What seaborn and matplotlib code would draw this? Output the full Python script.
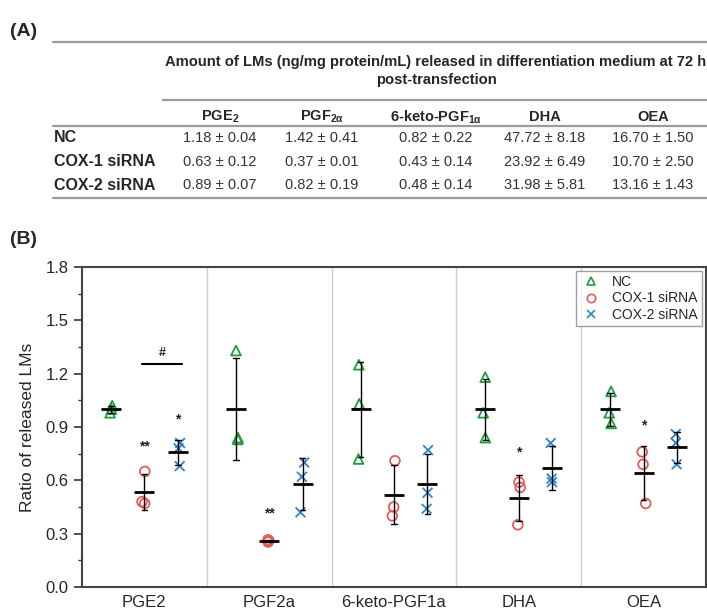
import matplotlib
matplotlib.use('Agg')
import matplotlib.pyplot as plt
from matplotlib.lines import Line2D
from matplotlib.ticker import MultipleLocator
import numpy as np
import pandas as pd
import seaborn as sns

# categories
lms = ['PGE2', 'PGF2a', '6-keto-PGF1a', 'DHA', 'OEA']
lm_headers = [r'PGE$_{\mathrm{2}}$', r'PGF$_{\mathrm{2α}}$', r'6-keto-PGF$_{\mathrm{1α}}$', 'DHA', 'OEA']
groups = ['NC', 'COX-1 siRNA', 'COX-2 siRNA']

# (A) amounts, ng/mg protein/mL, mean and sd
nc_mean = [1.18, 1.42, 0.82, 47.72, 16.70]
nc_sd = [0.04, 0.41, 0.22, 8.18, 1.50]
cox1_mean = [0.63, 0.37, 0.43, 23.92, 10.70]
cox1_sd = [0.12, 0.01, 0.14, 6.49, 2.50]
cox2_mean = [0.89, 0.82, 0.48, 31.98, 13.16]
cox2_sd = [0.07, 0.19, 0.14, 5.81, 1.43]

# (B) ratio of released LMs, three replicates per LM
nc_vals = [[1.00, 1.02, 0.98], [1.33, 0.83, 0.84], [1.25, 1.03, 0.72],
           [1.18, 0.98, 0.84], [1.10, 0.98, 0.92]]
cox1_vals = [[0.65, 0.48, 0.47], [0.265, 0.262, 0.253], [0.71, 0.45, 0.40],
             [0.59, 0.56, 0.35], [0.76, 0.69, 0.47]]
cox2_vals = [[0.81, 0.78, 0.68], [0.70, 0.62, 0.42], [0.77, 0.53, 0.44],
             [0.81, 0.61, 0.59], [0.86, 0.81, 0.69]]

# significance marks: (lm, group, y, text)
stars = [('PGE2', 'COX-1 siRNA', 0.79, '**'), ('PGE2', 'COX-2 siRNA', 0.945, '*'),
         ('PGF2a', 'COX-1 siRNA', 0.415, '**'), ('DHA', 'COX-1 siRNA', 0.755, '*'),
         ('OEA', 'COX-1 siRNA', 0.91, '*')]
hash_y = 1.252

colors = {'NC': '#1f9c3a', 'COX-1 siRNA': '#e25c5c', 'COX-2 siRNA': '#2f85c8'}
markers = {'NC': '^', 'COX-1 siRNA': 'o', 'COX-2 siRNA': 'x'}

rows = []
for g, vals in zip(groups, [nc_vals, cox1_vals, cox2_vals]):
    for lm, reps in zip(lms, vals):
        for v in reps:
            rows.append({'lm': lm, 'group': g, 'ratio': v})
df = pd.DataFrame(rows)

sns.set_style('ticks')
plt.rcParams['font.family'] = ['Liberation Sans', 'DejaVu Sans']
plt.rcParams['mathtext.fontset'] = 'custom'
plt.rcParams['mathtext.rm'] = 'Liberation Sans:bold'
plt.rcParams['mathtext.it'] = 'Liberation Sans:bold'
plt.rcParams['mathtext.bf'] = 'Liberation Sans:bold'

W, H = 707, 613
fig = plt.figure(figsize=(W / 100, H / 100), dpi=100)


def fx(x):
    return x / W


def fy(y):
    return 1 - y / H


# ---- panel (A): table ----
fig.text(fx(10), fy(31), '(A)', fontsize=14, fontweight='bold', va='center')
fig.text(fx(10), fy(240), '(B)', fontsize=14, fontweight='bold', va='center')

line_c = '#9a9a9a'
for y, x0 in [(42, 53), (100, 163), (126, 53), (198, 53)]:
    fig.add_artist(Line2D([fx(x0), 1], [fy(y), fy(y)], color=line_c, lw=1.6))

fig.text(fx(436), fy(62), 'Amount of LMs (ng/mg protein/mL) released in differentiation medium at 72 h',
         fontsize=10.6, fontweight='bold', ha='center', va='center')
fig.text(fx(436), fy(80), 'post-transfection', fontsize=10.6, fontweight='bold', ha='center', va='center')

col_x = [220, 322, 436, 545, 653]
for cx, h in zip(col_x, lm_headers):
    fig.text(fx(cx), fy(117), h, fontsize=10.5, fontweight='bold', ha='center', va='center')

row_y = [138, 162, 185]
for ry, g, means, sds in zip(row_y, groups, [nc_mean, cox1_mean, cox2_mean], [nc_sd, cox1_sd, cox2_sd]):
    fig.text(fx(54), fy(ry), g, fontsize=11.5, fontweight='bold', ha='left', va='center')
    for cx, m, s in zip(col_x, means, sds):
        fig.text(fx(cx), fy(ry), f'{m:.2f} ± {s:.2f}', fontsize=10.5, ha='center', va='center',
                 color='#333333')

# ---- panel (B): dot plot ----
ax = fig.add_axes([fx(82), 1 - 587 / H, 624 / W, 320 / H])

np.random.seed(3)
for g in groups:
    n0 = len(ax.collections)
    sns.stripplot(data=df[df['group'] == g], x='lm', y='ratio', hue='group', hue_order=groups,
                  order=lms, dodge=True, jitter=0.06, marker=markers[g], palette=colors, size=7,
                  legend=False, ax=ax, zorder=3)
    for coll in ax.collections[n0:]:
        fc = coll.get_facecolors()
        coll.set_facecolors('none')
        coll.set_edgecolors(fc)
        coll.set_linewidth(1.3)

sns.pointplot(data=df, x='lm', y='ratio', hue='group', hue_order=groups, order=lms,
              dodge=0.534, errorbar='sd', markers='_', linestyle='none',
              palette={g: 'black' for g in groups}, markersize=14, markeredgewidth=2,
              capsize=0.045, err_kws={'linewidth': 1.0}, legend=False, ax=ax, zorder=4)

offsets = {'NC': -0.267, 'COX-1 siRNA': 0.0, 'COX-2 siRNA': 0.267}
for lm, g, y, t in stars:
    ax.text(lms.index(lm) + offsets[g], y, t, ha='center', va='center', fontsize=10,
            fontweight='bold', color='#222222')
ax.plot([-0.02, 0.30], [hash_y, hash_y], color='black', lw=1.5)
ax.text(0.14, hash_y + 0.065, '#', ha='center', va='center', fontsize=9, fontweight='bold')

for xv in np.arange(0.5, len(lms) - 0.5, 1.0):
    ax.axvline(xv, color='#cccccc', lw=1.0, zorder=0)

ax.set_xlim(-0.5, len(lms) - 0.5)
ax.set_ylim(0, 1.8)
ax.yaxis.set_major_locator(MultipleLocator(0.3))
ax.yaxis.set_minor_locator(MultipleLocator(0.15))
ax.yaxis.set_major_formatter(plt.FormatStrFormatter('%.1f'))
ax.tick_params(axis='y', which='major', length=6, width=1.2, labelsize=12, color='#333333')
ax.tick_params(axis='y', which='minor', length=3, width=1.0, color='#333333')
ax.tick_params(axis='x', length=0, labelsize=12, pad=6)
for sp in ax.spines.values():
    sp.set_visible(True)
    sp.set_linewidth(1.5)
    sp.set_color('#444444')
ax.set_xlabel('')
ax.set_ylabel('Ratio of released LMs', fontsize=12.5, labelpad=8)

handles = [Line2D([], [], marker=markers[g], ls='none', mfc='none', mec=colors[g],
                  mew=1.2, ms=6) for g in groups]
ax.legend(handles, groups, loc='upper right', fontsize=10, frameon=True, fancybox=False,
          edgecolor='#888888', borderaxespad=0.3, borderpad=0.3, labelspacing=0.15,
          handletextpad=0.8, handlelength=1.5)

fig.savefig('out.png', dpi=100)
